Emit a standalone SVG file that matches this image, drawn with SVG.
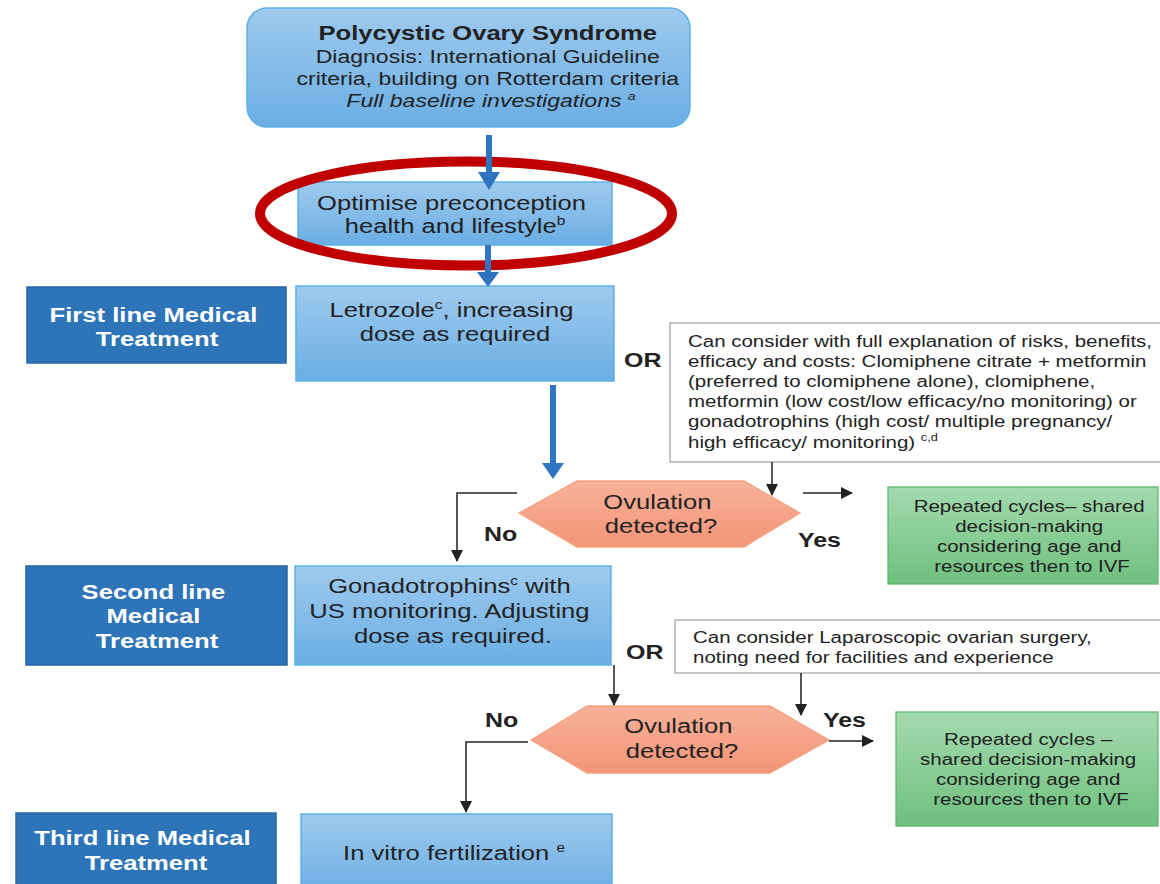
<svg xmlns="http://www.w3.org/2000/svg" width="1160" height="884" viewBox="0 0 1160 884">
<defs>
<linearGradient id="gBlue" x1="0" y1="0" x2="0" y2="1"><stop offset="0" stop-color="#9FCAEE"/><stop offset="1" stop-color="#6AAEE4"/></linearGradient>
<linearGradient id="gGreen" x1="0" y1="0" x2="0" y2="1"><stop offset="0" stop-color="#A4DAAE"/><stop offset="1" stop-color="#6FC07E"/></linearGradient>
<linearGradient id="gOrange" x1="0" y1="0" x2="0" y2="1"><stop offset="0" stop-color="#F8B29A"/><stop offset="1" stop-color="#F29478"/></linearGradient>
<marker id="ah" markerWidth="12" markerHeight="12" viewBox="0 0 12 12" refX="11" refY="6" orient="auto" markerUnits="userSpaceOnUse"><path d="M0,0 L12,6 L0,12 Z" fill="#222"/></marker>
</defs>
<style>
text{font-family:"Liberation Sans",Arial,sans-serif;fill:#222}
.lb{fill:url(#gBlue);stroke:#5FB1E6;stroke-width:1.5}
.db{fill:#2E74B8;stroke:#2865A6;stroke-width:1.5}
.wb{fill:#fff;stroke:#A6A6A6;stroke-width:1.3}
.gb{fill:url(#gGreen);stroke:#5DB86C;stroke-width:1.3}
.hx{fill:url(#gOrange);stroke:#F4A27E;stroke-width:1.3}
.t20{font-size:20px;text-anchor:middle}
.t16{font-size:16px}
.lbl{font-size:20px;font-weight:bold;fill:#fff;text-anchor:middle}
.bd{font-size:19.5px;font-weight:bold;fill:#222}
.cn{fill:none;stroke:#222;stroke-width:1.5;marker-end:url(#ah)}
.ba{fill:#2F74C0}
</style>
<rect width="1160" height="884" fill="#fff"/>

<g id="pcos">
<rect x="247" y="8" width="443" height="119" rx="20" class="lb"/>
<text transform="translate(491,0) scale(1.28,1)" text-anchor="middle" font-size="18">
<tspan x="0" y="40" font-size="20" font-weight="bold">Polycystic Ovary Syndrome</tspan>
<tspan x="0" y="63">Diagnosis: International Guideline</tspan>
<tspan x="0" y="85">criteria, building on Rotterdam criteria</tspan>
<tspan x="0" y="107" font-style="italic">Full baseline investigations <tspan font-size="11" dy="-7">a</tspan></tspan>
</text>
</g>

<g id="optimise">
<rect x="298" y="182" width="314" height="63" class="lb"/>
<text transform="translate(455,0) scale(1.28,1)" class="t20">
<tspan x="0" y="210">Optimise preconception</tspan>
<tspan x="0" y="233">health and lifestyle<tspan font-size="12" dy="-8">b</tspan></tspan>
</text>
</g>

<g id="highlight">
<ellipse cx="466" cy="213.5" rx="206" ry="52" fill="none" stroke="#C00000" stroke-width="10"/>
</g>

<g id="first-line-label">
<rect x="27" y="287" width="259" height="76" class="db"/>
<text transform="translate(157,0) scale(1.28,1)" class="lbl">
<tspan x="0" y="322">First line Medical</tspan>
<tspan x="0" y="346">Treatment</tspan>
</text>
</g>

<g id="letrozole">
<rect x="296" y="286" width="318" height="95" class="lb"/>
<text transform="translate(455,0) scale(1.28,1)" class="t20">
<tspan x="0" y="317">Letrozole<tspan font-size="12" dy="-8">c</tspan><tspan dy="8">, increasing</tspan></tspan>
<tspan x="0" y="341">dose as required</tspan>
</text>
</g>

<g id="or1"><text transform="translate(624,0) scale(1.28,1)" class="bd" x="0" y="367">OR</text></g>

<g id="alt1">
<rect x="670" y="323" width="500" height="139" class="wb"/>
<text transform="translate(688,0) scale(1.28,1)" class="t16">
<tspan x="0" y="347">Can consider with full explanation of risks, benefits,</tspan>
<tspan x="0" y="367">efficacy and costs: Clomiphene citrate + metformin</tspan>
<tspan x="0" y="387">(preferred to clomiphene alone), clomiphene,</tspan>
<tspan x="0" y="407">metformin (low cost/low efficacy/no monitoring) or</tspan>
<tspan x="0" y="427">gonadotrophins (high cost/ multiple pregnancy/</tspan>
<tspan x="0" y="448">high efficacy/ monitoring) <tspan font-size="10" dy="-7">c,d</tspan></tspan>
</text>
</g>

<g id="ovulation1">
<polygon points="519,513 577,481 744,481 800,513 744,547 577,547" class="hx"/>
<text transform="translate(661,0) scale(1.28,1)" class="t20" font-size="19.5">
<tspan x="0" y="509">Ovulation</tspan>
<tspan x="0" y="533">detected?</tspan>
</text>
</g>

<g id="labels1">
<text transform="translate(484,0) scale(1.28,1)" class="bd" x="0" y="541">No</text>
<text transform="translate(798,0) scale(1.28,1)" class="bd" x="0" y="547">Yes</text>
</g>

<g id="repeat1">
<rect x="888" y="487" width="270" height="97" class="gb"/>
<text transform="translate(1032,0) scale(1.28,1)" class="t16" text-anchor="middle">
<tspan x="0" y="512">Repeated cycles– shared</tspan>
<tspan x="0" y="532">decision-making</tspan>
<tspan x="0" y="552">considering age and</tspan>
<tspan x="0" y="572">resources then to IVF</tspan>
</text>
</g>

<g id="second-line-label">
<rect x="26" y="566" width="261" height="99" class="db"/>
<text transform="translate(157,0) scale(1.28,1)" class="lbl">
<tspan x="0" y="599">Second line</tspan>
<tspan x="0" y="623">Medical</tspan>
<tspan x="0" y="648">Treatment</tspan>
</text>
</g>

<g id="gonadotrophins">
<rect x="295" y="566" width="316" height="99" class="lb"/>
<text transform="translate(453,0) scale(1.28,1)" class="t20">
<tspan x="0" y="593">Gonadotrophins<tspan font-size="12" dy="-8">c</tspan><tspan dy="8"> with</tspan></tspan>
<tspan x="0" y="618">US monitoring. Adjusting</tspan>
<tspan x="0" y="643">dose as required.</tspan>
</text>
</g>

<g id="or2"><text transform="translate(626,0) scale(1.28,1)" class="bd" x="0" y="659">OR</text></g>

<g id="alt2">
<rect x="675" y="620" width="500" height="53" class="wb"/>
<text transform="translate(693,0) scale(1.28,1)" class="t16">
<tspan x="0" y="643">Can consider Laparoscopic ovarian surgery,</tspan>
<tspan x="0" y="663">noting need for facilities and experience</tspan>
</text>
</g>

<g id="ovulation2">
<polygon points="531,740 587,706 770,706 829,740 770,773 587,773" class="hx"/>
<text transform="translate(682,0) scale(1.28,1)" class="t20" font-size="19.5">
<tspan x="0" y="733">Ovulation</tspan>
<tspan x="0" y="758">detected?</tspan>
</text>
</g>

<g id="labels2">
<text transform="translate(485,0) scale(1.28,1)" class="bd" x="0" y="727">No</text>
<text transform="translate(823,0) scale(1.28,1)" class="bd" x="0" y="727">Yes</text>
</g>

<g id="repeat2">
<rect x="896" y="712" width="262" height="114" class="gb"/>
<text transform="translate(1031,0) scale(1.28,1)" class="t16" text-anchor="middle">
<tspan x="0" y="745">Repeated cycles –</tspan>
<tspan x="0" y="765">shared decision-making</tspan>
<tspan x="0" y="785">considering age and</tspan>
<tspan x="0" y="805">resources then to IVF</tspan>
</text>
</g>

<g id="third-line-label">
<rect x="16" y="813" width="260" height="80" class="db"/>
<text transform="translate(146,0) scale(1.28,1)" class="lbl">
<tspan x="0" y="845">Third line Medical</tspan>
<tspan x="0" y="870">Treatment</tspan>
</text>
</g>

<g id="ivf">
<rect x="301" y="814" width="311" height="80" class="lb"/>
<text transform="translate(454,0) scale(1.28,1)" class="t20">
<tspan x="0" y="860">In vitro fertilization <tspan font-size="12" dy="-8">e</tspan></tspan>
</text>
</g>

<g id="connectors">
<path class="ba" d="M486,135 H492 V172 H500 L489,190 L478,172 H486 Z"/>
<path class="ba" d="M485,245 H491 V272 H499 L488,287 L477,272 H485 Z"/>
<path class="ba" d="M550,385 H556 V463 H564 L553,479 L542,463 H550 Z"/>
<path class="cn" d="M772,462 V495"/>
<path class="cn" d="M803,493 H852"/>
<path class="cn" d="M517,493 H457 V561"/>
<path class="cn" d="M614,665 V705"/>
<path class="cn" d="M801,673 V715"/>
<path class="cn" d="M829,741 H873"/>
<path class="cn" d="M528,742 H466 V812"/>
</g>
</svg>
